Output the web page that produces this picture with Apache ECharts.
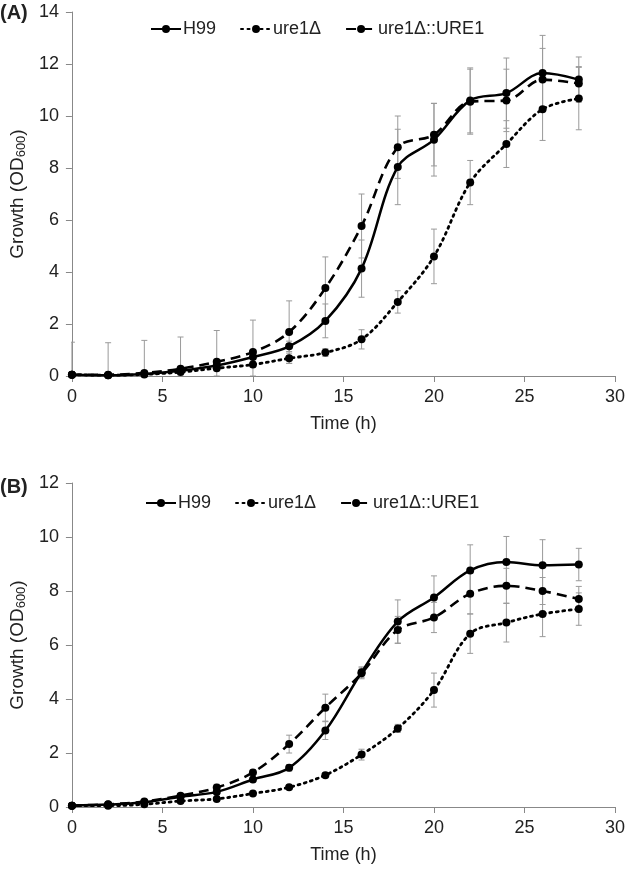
<!DOCTYPE html>
<html><head><meta charset="utf-8">
<script src="https://cdn.jsdelivr.net/npm/echarts@6/dist/echarts.min.js"></script>
<style>html,body{margin:0;padding:0;background:#fff}#c{width:630px;height:869px}</style>
</head><body><div id="c"></div>
<script>
const hours = [0,2,4,6,8,10,12,14,16,18,20,22,24,26,28];
const seriesNames = ['H99','ure1Δ','ure1Δ::URE1'];
// Panel A
const A_H99 = [0.05,0.03,0.08,0.2,0.4,0.73,1.14,2.12,4.13,8.04,9.09,10.6,10.88,11.65,11.4];
const A_H99_err = [0.1,0.1,0.1,0.1,0.15,0.2,0.2,0.65,1.1,1.45,1.4,1.25,1.35,1.45,0.87];
const A_ure = [0.05,0.03,0.06,0.15,0.3,0.44,0.68,0.9,1.41,2.85,4.6,7.44,8.92,10.26,10.67];
const A_ure_err = [0.05,0.05,0.05,0.05,0.1,0.1,0.2,0.15,0.37,0.43,1.05,0.85,0.9,1.2,1.2];
const A_comp = [0.05,0.05,0.12,0.28,0.55,0.92,1.69,3.38,5.77,8.8,9.28,10.55,10.6,11.4,11.25];
const A_comp_err = [1.25,1.23,1.25,1.22,1.2,1.23,1.2,1.2,1.23,1.2,1.2,1.25,1.2,1.2,0.65];
// Panel B
const B_H99 = [0.05,0.09,0.18,0.38,0.56,1.02,1.45,2.83,4.99,6.87,7.76,8.76,9.07,8.95,8.98];
const B_H99_err = [0.03,0.03,0.05,0.08,0.1,0.1,0.12,0.33,0.2,0.8,0.8,0.95,0.95,0.95,0.6];
const B_ure = [0.05,0.05,0.1,0.22,0.3,0.5,0.73,1.18,1.94,2.91,4.33,6.42,6.83,7.15,7.33];
const B_ure_err = [0.02,0.02,0.03,0.05,0.05,0.05,0.05,0.08,0.2,0.15,0.63,0.73,0.72,0.84,0.6];
const B_comp = [0.05,0.1,0.2,0.42,0.72,1.28,2.33,3.68,4.95,6.56,7.02,7.9,8.19,8.0,7.7];
const B_comp_err = [0.03,0.03,0.05,0.08,0.12,0.1,0.33,0.5,0.2,0.5,0.56,0.75,0.65,0.5,0.47];

const FONT = 'Liberation Sans, Arial, sans-serif';
const TXT = '#222';
const chart = echarts.init(document.getElementById('c'), null, {renderer:'canvas'});

const lineStyles = [
  {type:'solid', width:2.5},
  {type:[2,4.5], width:2.8, cap:'round'},
  {type:[10,6], width:2.6}
];

function errData(vals, errs){
  return hours.map((h,i)=>[h, Math.max(0, vals[i]-errs[i]), vals[i]+errs[i]]);
}
function errSeries(vals, errs, idx){
  return {
    type:'custom', name:'err'+idx, xAxisIndex:idx, yAxisIndex:idx, z:1, silent:true,
    clip:true,
    data: errData(vals, errs),
    renderItem: function(params, api){
      const x = api.value(0);
      const lo = api.coord([x, api.value(1)]);
      const hi = api.coord([x, api.value(2)]);
      const w = 3;
      const st = {stroke:'#9a9a9a', lineWidth:1, fill:null};
      return {type:'group', children:[
        {type:'line', shape:{x1:lo[0], y1:lo[1], x2:hi[0], y2:hi[1]}, style:st},
        {type:'line', shape:{x1:hi[0]-w, y1:hi[1], x2:hi[0]+w, y2:hi[1]}, style:st},
        {type:'line', shape:{x1:lo[0]-w, y1:lo[1], x2:lo[0]+w, y2:lo[1]}, style:st}
      ]};
    }
  };
}
function lineSeries(name, vals, idx, k){
  return {
    type:'line', name:name, xAxisIndex:idx, yAxisIndex:idx, z:3,
    data: hours.map((h,i)=>[h, vals[i]]),
    smooth:0.35, symbol:'circle', symbolSize:8,
    itemStyle:{color:'#000'},
    lineStyle:Object.assign({color:'#000'}, lineStyles[k]),
    emphasis:{disabled:true}
  };
}
function xAxis(idx){
  return {
    type:'value', gridIndex:idx, min:0, max:30, interval:5,
    name:'Time (h)', nameLocation:'middle', nameGap:39,
    nameTextStyle:{fontFamily:FONT, fontSize:18, color:TXT},
    axisLine:{lineStyle:{color:'#888', width:1}},
    axisTick:{show:true, inside:false, length:6, lineStyle:{color:'#888'}},
    axisLabel:{fontFamily:FONT, fontSize:18, color:TXT, margin:12},
    splitLine:{show:false}
  };
}
function yAxis(idx, max){
  return {
    type:'value', gridIndex:idx, min:0, max:max, interval:2,
    name:'Growth (OD{sub|600})', nameLocation:'middle', nameGap:35, nameRotate:90,
    nameTextStyle:{fontFamily:FONT, fontSize:19, color:TXT,
      rich:{sub:{fontFamily:FONT, fontSize:13, color:TXT, padding:[8,0,0,0]}}},
    axisLine:{show:true, lineStyle:{color:'#888', width:1}},
    axisTick:{show:true, inside:false, length:6, lineStyle:{color:'#888'}},
    axisLabel:{fontFamily:FONT, fontSize:18, color:TXT, margin:13},
    splitLine:{show:false}
  };
}
function legend(left, top){
  return {
    left:left, top:top, itemWidth:30, itemHeight:10, itemGap:24,
    data:seriesNames.map(n=>({name:n})),
    textStyle:{fontFamily:FONT, fontSize:18, color:TXT, padding:[0,0,0,-3]},
    selectedMode:false
  };
}

const series = [];
[[A_H99,A_H99_err],[A_ure,A_ure_err],[A_comp,A_comp_err]].forEach(p=>series.push(errSeries(p[0],p[1],0)));
[[B_H99,B_H99_err],[B_ure,B_ure_err],[B_comp,B_comp_err]].forEach(p=>series.push(errSeries(p[0],p[1],1)));
[A_H99,A_ure,A_comp].forEach((v,k)=>series.push(lineSeries(seriesNames[k], v, 0, k)));
[B_H99,B_ure,B_comp].forEach((v,k)=>series.push(lineSeries(seriesNames[k], v, 1, k)));

chart.setOption({
  animation:false,
  backgroundColor:'#fff',
  grid:[
    {left:71, right:15, top:12, height:364},
    {left:71, right:15, top:483, height:324}
  ],
  xAxis:[xAxis(0), xAxis(1)],
  yAxis:[yAxis(0,14), yAxis(1,12)],
  legend:[legend(145,15), legend(140,489)],
  graphic:[
    {type:'text', left:0, top:3, style:{text:'(A)', fontFamily:FONT, fontSize:20, fontWeight:'bold', fill:TXT}},
    {type:'text', left:0, top:477, style:{text:'(B)', fontFamily:FONT, fontSize:20, fontWeight:'bold', fill:TXT}}
  ],
  series:series
});
</script></body></html>
